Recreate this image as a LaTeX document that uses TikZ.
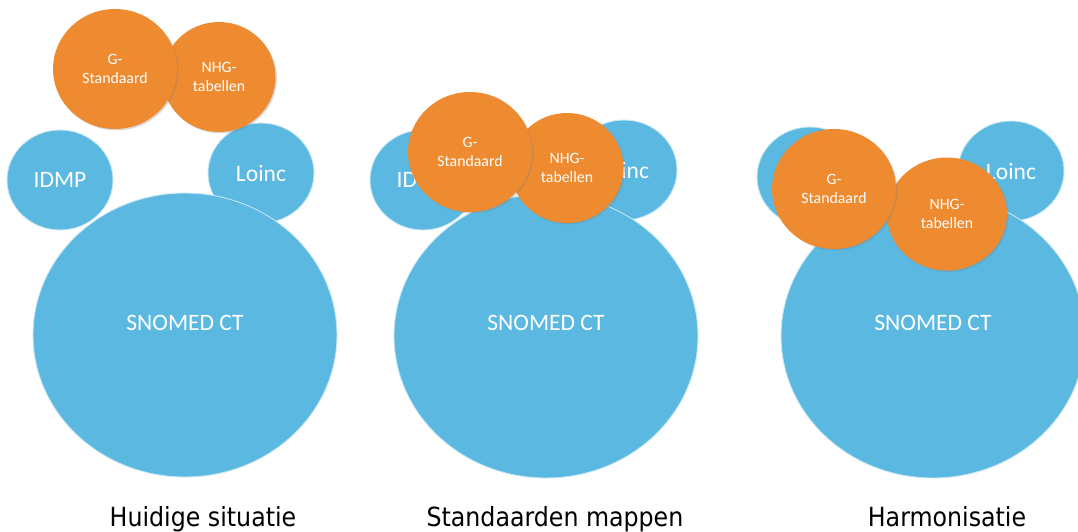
\documentclass[tikz,border=0pt]{standalone}
\usepackage{fontspec}
\setmainfont{Carlito}
\newfontfamily\captfont{DejaVu Sans Condensed}
\usepackage{xcolor}
\usepackage{tikz}
\usetikzlibrary{positioning,shapes.geometric,shadows}

\definecolor{snoblue}{HTML}{5BB8E0}
\definecolor{gorange}{HTML}{EE8A2F}

\begin{document}
\begin{tikzpicture}[x=0.02cm, y=-0.02cm,
  bigblob/.style={ellipse, fill=snoblue, draw=white!65!snoblue, line width=0.5pt,
    minimum width=6.08cm, minimum height=5.68cm, inner sep=0pt},
  smallblob/.style={ellipse, fill=snoblue, draw=white!65!snoblue, line width=0.5pt,
    minimum width=2.12cm, minimum height=2.0cm, inner sep=0pt,
    text=white, font=\fontsize{13.4}{16}\selectfont},
  gstd/.style={ellipse, fill=gorange,
    drop shadow={opacity=0.3, shadow xshift=0.8pt, shadow yshift=-0.8pt},
    minimum width=2.48cm, minimum height=2.4cm, inner sep=0pt,
    text=white, align=center, font=\fontsize{9}{10.8}\selectfont},
  nhg/.style={gstd, minimum width=2.26cm, minimum height=2.2cm},
  bigtxt/.style={text=white, font=\fontsize{13.4}{16}\selectfont},
  capt/.style={anchor=base, font=\captfont\fontsize{15}{18}\selectfont}]

\useasboundingbox (0,0) rectangle (1078,531);

% Huidige situatie
\node[smallblob] (idmp_1) at (60,180) {IDMP};
\node[smallblob] (loinc_1) at (261,173) {Loinc};
\node[bigblob] (snomed_1) at (185,335) {};
\node[bigtxt] (snomedtxt_1) at (185,323) {SNOMED CT};
\node[nhg] (nhg_1) at (219,77) {NHG-\\tabellen};
\node[gstd] (gstd_1) at (115,69) {G-\\Standaard};

% Standaarden mappen
\node[smallblob] (idmp_2) at (423,180) {IDMP};
\node[smallblob] (loinc_2) at (624,170) {Loinc};
\node[bigblob] (snomed_2) at (546,336) {};
\node[bigtxt] (snomedtxt_2) at (546,323) {SNOMED CT};
\node[nhg] (nhg_2) at (567,168) {NHG-\\tabellen};
\node[gstd] (gstd_2) at (470,152) {G-\\Standaard};

% Harmonisatie
\node[smallblob] (idmp_3) at (810,177) {};
\node[smallblob] (loinc_3) at (1011,171) {Loinc};
\node[bigblob] (snomed_3) at (933,336) {};
\node[bigtxt] (snomedtxt_3) at (933,323) {SNOMED CT};
\node[nhg, minimum width=2.4cm, minimum height=2.26cm] (nhg_3) at (947,214) {NHG-\\tabellen};
\node[gstd] (gstd_3) at (834,189) {G-\\Standaard};

% onderschriften
\node[capt] (capt_1) at (203,526) {Huidige situatie};
\node[capt] (capt_2) at (555,526) {Standaarden mappen};
\node[capt] (capt_3) at (947,526) {Harmonisatie};

\end{tikzpicture}
\end{document}
